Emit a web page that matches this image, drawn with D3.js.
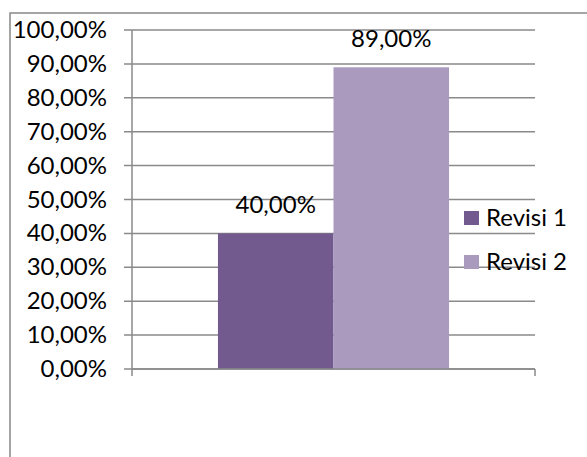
<!DOCTYPE html>
<html>
<head>
<meta charset="utf-8">
<script src="https://cdn.jsdelivr.net/npm/d3@7"></script>
<style>
  html, body { margin: 0; padding: 0; background: #fff; }
  svg { display: block; font-family: Lato, "Open Sans", sans-serif; }
</style>
</head>
<body>
<svg id="chart" width="587" height="457"></svg>
<script>
const categories = ["Kategori"];
const seriesNames = ["Revisi 1", "Revisi 2"];
const seriesValues = [0.40, 0.89];
const seriesColors = ["#725A8F", "#A99ABE"];
const tickValues = [0, 0.1, 0.2, 0.3, 0.4, 0.5, 0.6, 0.7, 0.8, 0.9, 1.0];

const svg = d3.select("#chart");
const plot = { left: 132, right: 535, top: 30, bottom: 369 };
const FS = 24;

const locale = d3.formatLocale({ decimal: ",", thousands: ".", grouping: [3], currency: ["", ""] });
const fmt = locale.format(".2%");

// outer border
svg.append("rect")
  .attr("x", 10).attr("y", 13)
  .attr("width", 700).attr("height", 600)
  .attr("fill", "none").attr("stroke", "#888").attr("stroke-width", 1.5);

const y = d3.scaleLinear().domain([0, 1]).range([plot.bottom, plot.top]);
const x0 = d3.scaleBand().domain(categories).range([plot.left, plot.right])
  .paddingInner(0).paddingOuter(0.372);
const x1 = d3.scaleBand().domain(seriesNames).range([0, x0.bandwidth()]).padding(0);

// gridlines + tick marks
svg.append("g").selectAll("line").data(tickValues).join("line")
  .attr("x1", plot.left - 8).attr("x2", plot.right)
  .attr("y1", d => y(d)).attr("y2", d => y(d))
  .attr("stroke", "#8a8a8a").attr("stroke-width", 1.5);

// y axis labels
svg.append("g").selectAll("text").data(tickValues).join("text")
  .attr("x", 107).attr("y", d => y(d) + 8)
  .attr("text-anchor", "end")
  .attr("font-size", FS).attr("fill", "#000")
  .text(d => fmt(d));

// bars
const barData = seriesNames.map((s, i) => ({ cat: categories[0], name: s, value: seriesValues[i], color: seriesColors[i] }));
svg.append("g").selectAll("rect").data(barData).join("rect")
  .attr("x", d => x0(d.cat) + x1(d.name))
  .attr("width", x1.bandwidth())
  .attr("y", d => y(d.value))
  .attr("height", d => y(0) - y(d.value))
  .attr("fill", d => d.color);

// value labels
svg.append("g").selectAll("text").data(barData).join("text")
  .attr("x", d => x0(d.cat) + x1(d.name) + x1.bandwidth() / 2)
  .attr("y", d => y(d.value) - 20)
  .attr("text-anchor", "middle")
  .attr("font-size", FS).attr("fill", "#000")
  .text(d => fmt(d.value));

// y axis line
svg.append("line")
  .attr("x1", plot.left).attr("x2", plot.left)
  .attr("y1", plot.top).attr("y2", plot.bottom + 7)
  .attr("stroke", "#8a8a8a").attr("stroke-width", 1.5);
// x axis line and end tick
svg.append("line")
  .attr("x1", plot.left).attr("x2", plot.right)
  .attr("y1", plot.bottom).attr("y2", plot.bottom)
  .attr("stroke", "#8a8a8a").attr("stroke-width", 1.5);
svg.append("line")
  .attr("x1", plot.right).attr("x2", plot.right)
  .attr("y1", plot.bottom).attr("y2", plot.bottom + 7)
  .attr("stroke", "#8a8a8a").attr("stroke-width", 1.5);

// legend
const legendY = d3.scalePoint().domain(seriesNames).range([218, 262]);
const leg = svg.append("g").selectAll("g").data(barData).join("g");
leg.append("rect")
  .attr("x", 464).attr("y", d => legendY(d.name) - 7)
  .attr("width", 15).attr("height", 14)
  .attr("fill", d => d.color);
leg.append("text")
  .attr("x", 486).attr("y", d => legendY(d.name) + 8)
  .attr("font-size", FS).attr("fill", "#000")
  .text(d => d.name);
</script>
</body>
</html>
